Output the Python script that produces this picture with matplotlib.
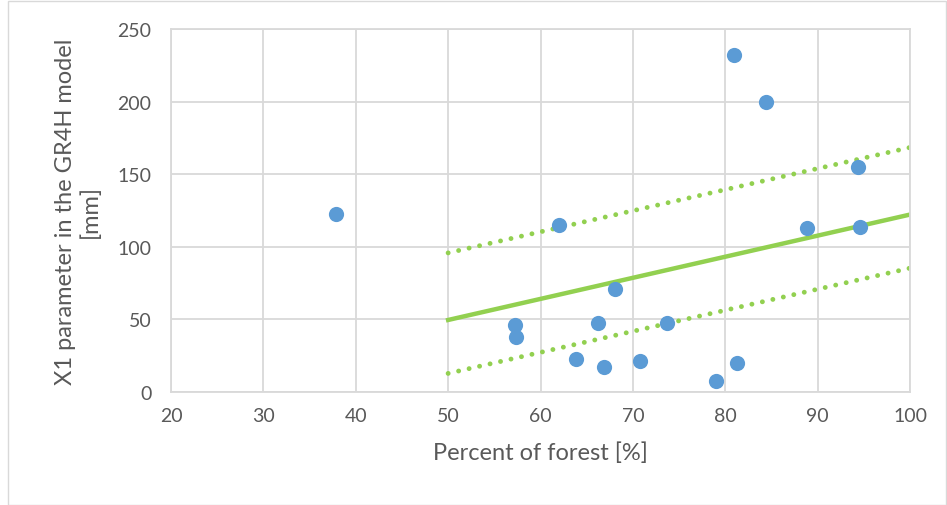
import matplotlib
matplotlib.use("Agg")
from matplotlib import pyplot as plt
from matplotlib.patches import Rectangle
import numpy as np

# forest share [%] and X1 parameter [mm] per catchment
forest = [37.9, 62.0, 80.9, 84.4, 94.4, 88.9, 94.6, 68.1, 57.2, 57.3,
          66.2, 73.7, 63.8, 66.9, 70.8, 79.0, 81.3]
x1 = [122.6, 115, 232, 200, 155, 113, 113.5, 71, 46, 38,
      47.5, 47.5, 22.5, 17, 21.5, 7.5, 20]

# trend line and its band, given at the ends 50 and 100
line_x = [50, 100]
trend_y = [49.6, 122.2]
upper_y = [95.8, 168.4]
lower_y = [12.8, 85.3]

x_ticks = [20, 30, 40, 50, 60, 70, 80, 90, 100]
y_ticks = [0, 50, 100, 150, 200, 250]

plt.rcParams['font.family'] = ['Lato', 'DejaVu Sans']
grey = '#595959'
grid = '#d9d9d9'
green = '#92D050'

fig = plt.figure(figsize=(9.47, 5.06), dpi=100)
ax = fig.add_axes([171/947, 1 - 393/506, (910 - 171)/947, (393 - 30)/506])

ax.set_xlim(20, 100)
ax.set_ylim(0, 250)
ax.set_xticks(x_ticks)
ax.set_yticks(y_ticks)
ax.grid(True, color=grid, linewidth=1.3)
ax.set_axisbelow(True)
for s in ax.spines.values():
	s.set_color(grid)
	s.set_linewidth(1.3)
ax.tick_params(length=0, colors=grey, labelsize=14)
ax.tick_params(axis='x', pad=11)
ax.tick_params(axis='y', pad=14)

# round dots for the band lines
dots = (0, (0.01, 2.2))
ax.plot(line_x, upper_y, color=green, linewidth=3.5, linestyle=dots,
	dash_capstyle='round', zorder=2)
ax.plot(line_x, lower_y, color=green, linewidth=3.5, linestyle=dots,
	dash_capstyle='round', zorder=2)
ax.plot(line_x, trend_y, color=green, linewidth=3.2, zorder=2)
ax.scatter(forest, x1, s=120, color='#5B9BD5', zorder=3, linewidths=0)

ax.set_xlabel('Percent of forest [%]', color=grey, fontsize=17, labelpad=12)
ax.set_ylabel('X1 parameter in the GR4H model\n[mm]', color=grey, fontsize=17,
	labelpad=12, linespacing=1.2)

fig.patches.append(Rectangle((8/947, 0), 938/947, 1 - 2/506, transform=fig.transFigure,
	fill=False, edgecolor='#d9d9d9', linewidth=1))

fig.savefig('out.png', dpi=100)
